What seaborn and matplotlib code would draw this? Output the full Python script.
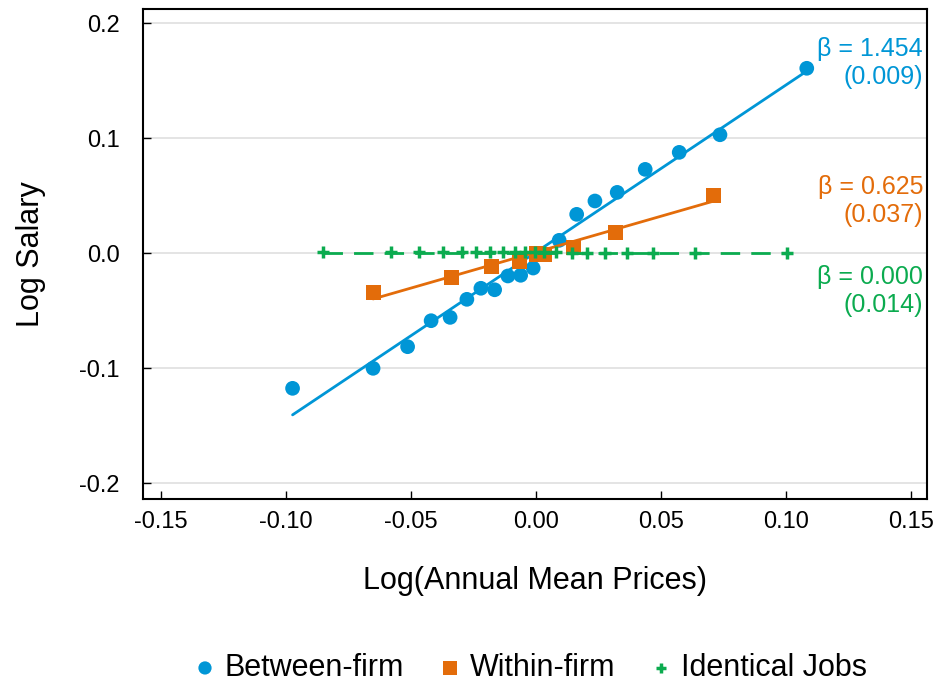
import numpy as np
import pandas as pd
import matplotlib
matplotlib.use("Agg")
import matplotlib.pyplot as plt
from matplotlib.ticker import FormatStrFormatter
import seaborn as sns

# Binned log prices (x) and log salaries (y) for each comparison
between_x = [-0.0973, -0.0651, -0.0513, -0.0419, -0.0343, -0.0276, -0.0220, -0.0165,
             -0.0112, -0.0061, -0.0011, 0.0093, 0.0163, 0.0236, 0.0325, 0.0437,
             0.0573, 0.0736, 0.1083]
between_y = [-0.1174, -0.1000, -0.0812, -0.0586, -0.0557, -0.0400, -0.0304, -0.0317,
             -0.0197, -0.0191, -0.0128, 0.0113, 0.0339, 0.0455, 0.0530, 0.0730,
             0.0878, 0.1031, 0.1609]

within_x = [-0.0651, -0.0337, -0.0178, -0.0064, 0.0002, 0.0036, 0.0149, 0.0319, 0.0709]
within_y = [-0.0339, -0.0209, -0.0115, -0.0067, -0.0006, -0.0010, 0.0049, 0.0179, 0.0507]

identical_x = [-0.0853, -0.0580, -0.0468, -0.0371, -0.0297, -0.0241, -0.0184, -0.0131,
               -0.0084, -0.0044, -0.0004, 0.0032, 0.0080, 0.0143, 0.0203, 0.0276,
               0.0363, 0.0469, 0.0636, 0.1003]
identical_y = [0.0013, 0.0012, 0.0012, 0.0011, 0.0011, 0.0011, 0.0010, 0.0010,
               0.0010, 0.0009, 0.0009, 0.0008, 0.0008, 0.0007, 0.0007, 0.0006,
               0.0005, 0.0005, 0.0004, 0.0003]

# Regression slopes, standard errors and intercepts of the fitted lines
series_names = ["Between-firm", "Within-firm", "Identical Jobs"]
betas = [1.454, 0.625, 0.000]
std_errs = [0.009, 0.037, 0.014]
intercepts = [0.001, 0.001, 0.0003]

colors = ["#0096d6", "#e36c0a", "#0bab4f"]

sns.set_theme(style="white")
plt.rcParams["font.family"] = ["Liberation Sans", "DejaVu Sans"]
plt.rcParams["axes.unicode_minus"] = False

fig = plt.figure(figsize=(9.4, 6.83), dpi=100)
ax = fig.add_axes([0.1524, 0.2698, 0.8341, 0.7176])

ax.set_xlim(-0.157, 0.1565)
ax.set_ylim(-0.2134, 0.2128)
ax.set_yticks([-0.2, -0.1, 0.0, 0.1, 0.2])
ax.set_xticks([-0.15, -0.10, -0.05, 0.0, 0.05, 0.10, 0.15])
ax.xaxis.set_major_formatter(FormatStrFormatter("%.2f"))
ax.yaxis.set_major_formatter(FormatStrFormatter("%.1f"))
ax.grid(axis="y", color="#e2e2e2", linewidth=1.3)
ax.set_axisbelow(True)

for side in ["left", "right", "top", "bottom"]:
    ax.spines[side].set_color("black")
    ax.spines[side].set_linewidth(1.5)
ax.tick_params(axis="both", which="major", bottom=True, left=True, top=False,
               right=False, direction="in", length=6, width=1.0, color="black",
               labelsize=17, labelcolor="black")
ax.tick_params(axis="y", pad=17)
ax.tick_params(axis="x", pad=9)

frames = [
    pd.DataFrame({"x": between_x, "y": between_y}),
    pd.DataFrame({"x": within_x, "y": within_y}),
    pd.DataFrame({"x": identical_x, "y": identical_y}),
]
markers = ["o", "s", "+"]
sizes = [112, 117, 72]
styles = ["-", "-", (0, (7, 4))]

for i, df in enumerate(frames):
    xs = np.array([df["x"].min(), df["x"].max()])
    fit = pd.DataFrame({"x": xs, "y": intercepts[i] + betas[i] * xs})
    sns.lineplot(data=fit, x="x", y="y", ax=ax, color=colors[i], linewidth=2.0,
                 linestyle=styles[i], legend=False, zorder=2 + 2 * i)
    if markers[i] == "+":
        sns.scatterplot(data=df, x="x", y="y", ax=ax, marker="+", s=sizes[i],
                        color=colors[i], linewidth=2.5, zorder=3 + 2 * i,
                        label=series_names[i])
    else:
        sns.scatterplot(data=df, x="x", y="y", ax=ax, marker=markers[i],
                        s=sizes[i], color=colors[i], edgecolor="none",
                        linewidth=0, zorder=3 + 2 * i, label=series_names[i])

handles, labels = ax.get_legend_handles_labels()
ax.get_legend().remove()

# Slope annotations at the right edge
label_y = [0.1655, 0.0455, -0.0328]
for i in range(3):
    ax.text(0.1548, label_y[i], f"\u03b2 = {betas[i]:.3f}\n({std_errs[i]:.3f})",
            color=colors[i], fontsize=18, ha="right", va="center",
            multialignment="right", linespacing=1.25, zorder=10)

ax.set_xlabel("Log(Annual Mean Prices)", fontsize=22, color="black")
ax.set_ylabel("Log Salary", fontsize=22, color="black")
ax.xaxis.set_label_coords(0.5, -0.137)
ax.yaxis.set_label_coords(-0.124, 0.5)

fig.legend(handles, labels, loc="center", bbox_to_anchor=(0.5654, 0.022),
           ncol=3, frameon=False, fontsize=22, handlelength=0.6,
           handletextpad=0.35, columnspacing=1.2, markerscale=0.9,
           borderpad=0.0, labelcolor="black")

fig.savefig("out.png", dpi=100)
